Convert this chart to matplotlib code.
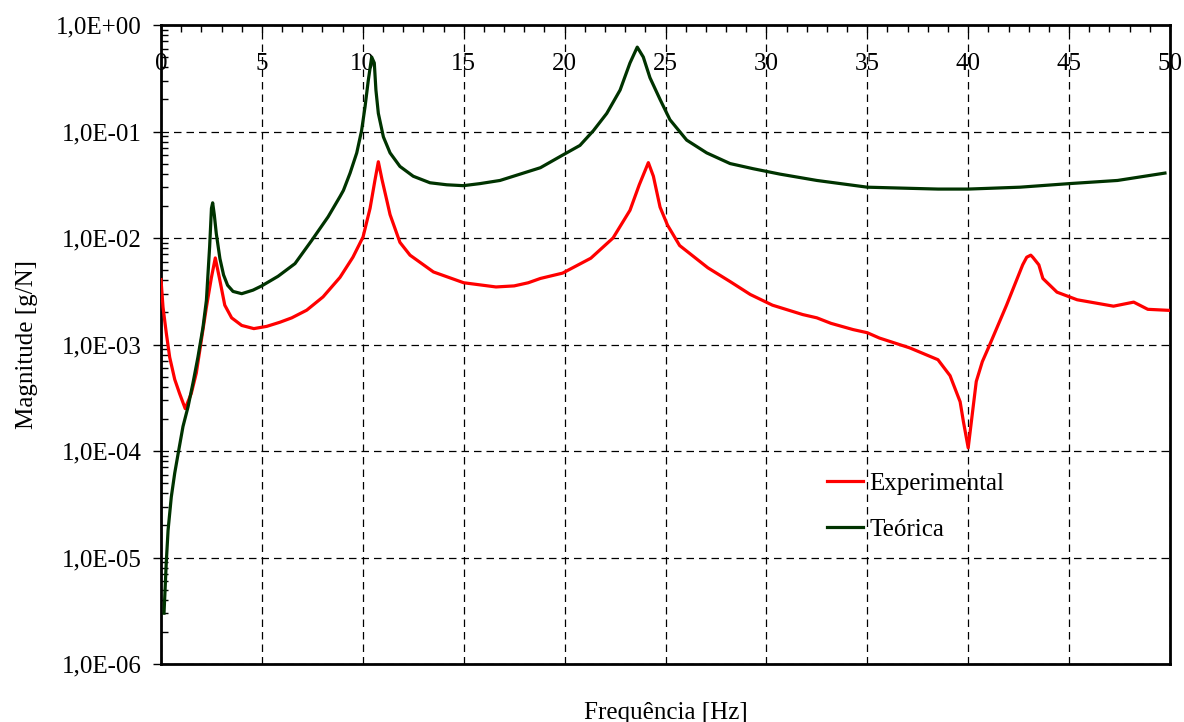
import matplotlib
matplotlib.use("Agg")
import matplotlib.pyplot as plt
from matplotlib.ticker import FuncFormatter, MultipleLocator, LogLocator, NullFormatter

plt.rcParams['font.family'] = ['Liberation Serif', 'DejaVu Serif']

# Theoretical curve (Teórica)
teo_freq = [0.15, 0.26, 0.35, 0.51, 0.68, 0.88, 1.09, 1.34, 1.59, 1.83, 2.08, 2.25, 2.41, 2.5,
            2.56, 2.64, 2.74, 2.92, 3.1, 3.3, 3.57, 4.0, 4.56, 4.99, 5.8, 6.64, 7.47, 8.28,
            8.87, 9.04, 9.37, 9.70, 9.94, 10.11, 10.27, 10.44, 10.57, 10.65, 10.77, 11.02,
            11.35, 11.84, 12.5, 13.33, 14.16, 14.98, 15.8, 16.8, 18.8, 19.9, 20.76, 21.43,
            22.09, 22.75, 23.24, 23.6, 23.9, 24.23, 24.73, 25.22, 26.05, 27.04, 28.2, 29.35,
            30.67, 32.5, 35.0, 38.5, 40.0, 42.57, 45.0, 47.4, 49.75]
teo_mag = [3.0e-6, 8.9e-6, 1.8e-5, 3.7e-5, 6.2e-5, 1.02e-4, 1.7e-4, 2.6e-4, 4.4e-4, 7.6e-4,
           1.45e-3, 2.6e-3, 8.3e-3, 1.9e-2, 2.14e-2, 1.66e-2, 1.1e-2, 6.4e-3, 4.5e-3, 3.6e-3,
           3.15e-3, 3.0e-3, 3.24e-3, 3.55e-3, 4.37e-3, 5.75e-3, 9.5e-3, 1.58e-2, 2.45e-2,
           2.8e-2, 4.07e-2, 6.3e-2, 0.102, 0.17, 0.30, 0.50, 0.44, 0.245, 0.148, 8.9e-2,
           6.3e-2, 4.7e-2, 3.8e-2, 3.3e-2, 3.16e-2, 3.1e-2, 3.24e-2, 3.47e-2, 4.57e-2, 6.0e-2,
           7.4e-2, 0.102, 0.148, 0.245, 0.44, 0.62, 0.50, 0.32, 0.20, 0.129, 8.3e-2, 6.3e-2,
           5.0e-2, 4.47e-2, 3.98e-2, 3.47e-2, 3.0e-2, 2.88e-2, 2.88e-2, 3.0e-2, 3.24e-2,
           3.47e-2, 4.07e-2]

# Experimental curve
exp_freq = [0.0, 0.1, 0.26, 0.43, 0.68, 0.92, 1.2, 1.5, 1.75, 2.0, 2.25, 2.5, 2.69, 2.91,
            3.16, 3.5, 4.0, 4.6, 5.24, 5.9, 6.48, 7.22, 8.03, 8.87, 9.51, 10.01, 10.36, 10.6,
            10.77, 10.95, 11.18, 11.35, 11.84, 12.34, 13.5, 15.0, 16.6, 17.5, 18.2, 18.8,
            19.9, 21.3, 22.4, 23.24, 23.7, 24.15, 24.4, 24.73, 25.1, 25.7, 27.1, 28.2, 29.2,
            30.3, 31.8, 32.5, 33.2, 34.3, 35.0, 35.6, 37.1, 38.5, 39.1, 39.6, 39.76, 40.0,
            40.2, 40.4, 40.7, 41.0, 41.9, 42.7, 42.9, 43.1, 43.2, 43.5, 43.7, 44.4, 45.4,
            47.2, 48.2, 48.9, 50.0]
exp_mag = [4.07e-3, 2.24e-3, 1.29e-3, 7.6e-4, 4.7e-4, 3.47e-4, 2.5e-4, 3.47e-4, 5.4e-4,
           1.1e-3, 2.24e-3, 4.27e-3, 6.5e-3, 4.07e-3, 2.34e-3, 1.78e-3, 1.51e-3, 1.41e-3,
           1.48e-3, 1.62e-3, 1.78e-3, 2.1e-3, 2.8e-3, 4.27e-3, 6.6e-3, 1.02e-2, 1.9e-2,
           3.47e-2, 5.2e-2, 3.55e-2, 2.3e-2, 1.66e-2, 9.1e-3, 6.9e-3, 4.8e-3, 3.8e-3,
           3.47e-3, 3.55e-3, 3.8e-3, 4.17e-3, 4.68e-3, 6.46e-3, 1.0e-2, 1.82e-2, 3.16e-2,
           5.1e-2, 3.8e-2, 1.95e-2, 1.32e-2, 8.5e-3, 5.25e-3, 3.9e-3, 2.95e-3, 2.34e-3,
           1.91e-3, 1.78e-3, 1.58e-3, 1.38e-3, 1.29e-3, 1.15e-3, 9.3e-4, 7.2e-4, 5.1e-4,
           2.9e-4, 1.9e-4, 1.07e-4, 2.2e-4, 4.5e-4, 6.9e-4, 9.3e-4, 2.34e-3, 5.6e-3, 6.6e-3,
           6.9e-3, 6.6e-3, 5.6e-3, 4.17e-3, 3.1e-3, 2.63e-3, 2.29e-3, 2.5e-3, 2.14e-3,
           2.09e-3]

x_ticks = [0, 5, 10, 15, 20, 25, 30, 35, 40, 45, 50]
y_ticks = [1e-6, 1e-5, 1e-4, 1e-3, 1e-2, 1e-1, 1e0]

fig = plt.figure(figsize=(11.84, 7.22), dpi=100)
ax = fig.add_axes([161 / 1184, 1 - 664 / 722, (1170 - 161) / 1184, (664 - 25) / 722])

ax.plot(exp_freq, exp_mag, color='#ff0000', lw=2.3, label='Experimental', zorder=3,
        solid_joinstyle='round')
ax.plot(teo_freq, teo_mag, color='#003300', lw=2.3, label='Teórica', zorder=3,
        solid_joinstyle='round')

ax.set_yscale('log')
ax.set_xlim(0, 50)
ax.set_ylim(1e-6, 1e0)
ax.set_xticks(x_ticks)
ax.set_yticks(y_ticks)
ax.xaxis.set_minor_locator(MultipleLocator(1))
ax.yaxis.set_minor_locator(LogLocator(base=10, subs=range(2, 10), numticks=20))
ax.yaxis.set_minor_formatter(NullFormatter())
ax.yaxis.set_major_formatter(FuncFormatter(lambda v, p: f"{v:.1E}".replace('.', ',')))

ax.grid(True, which='major', color='black', linestyle=(0, (6, 4)), linewidth=0.9)

ax.tick_params(axis='x', which='both', top=True, bottom=False, labeltop=True,
               labelbottom=False, direction='in', labelsize=18, pad=-28)
ax.tick_params(axis='x', which='major', length=5, width=1)
ax.tick_params(axis='x', which='minor', length=5, width=1)
ax.tick_params(axis='y', which='major', direction='out', length=6, width=1, labelsize=18, pad=8)
ax.tick_params(axis='y', which='minor', direction='in', length=5, width=1)
for lbl in ax.get_xticklabels():
    lbl.set_verticalalignment('center')

for s in ax.spines.values():
    s.set_linewidth(2)
    s.set_color('black')

ax.set_xlabel('Frequência [Hz]', fontsize=18, labelpad=0)
ax.xaxis.set_label_coords(0.5, -0.06)
ax.set_ylabel('Magnitude [g/N]', fontsize=18)
ax.yaxis.set_label_coords(-0.122, 0.5)

ax.legend(loc='upper left', bbox_to_anchor=(0.65, 0.316), frameon=False, fontsize=18,
          handlelength=1.45, handletextpad=0.25, labelspacing=0.95, borderaxespad=0)

fig.savefig('out.png', dpi=100)
